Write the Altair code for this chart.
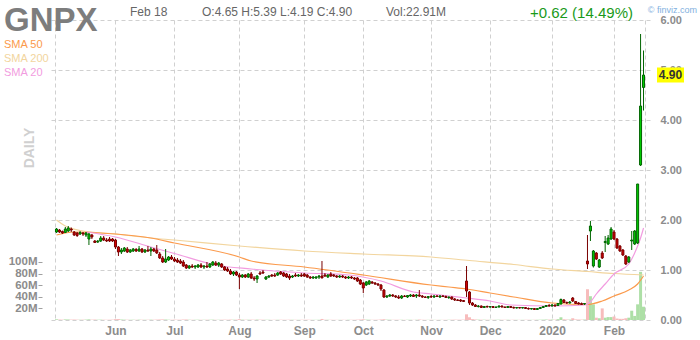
import altair as alt
import pandas as pd

ticker = "GNPX"
sma_names = ["SMA 50", "SMA 200", "SMA 20"]

opens = [1.76,1.80,1.77,1.75,1.78,1.82,1.76,1.74,1.72,1.74,1.70,1.62,1.70,1.58,1.56,1.58,1.64,1.60,1.62,1.62,
         1.60,1.46,1.36,1.38,1.42,1.36,1.38,1.41,1.38,1.42,1.36,1.40,1.38,1.42,1.40,1.32,1.24,1.16,1.20,1.26,
         1.22,1.20,1.18,1.16,1.10,1.04,1.08,1.06,1.06,1.10,1.06,1.08,1.06,1.10,1.14,1.10,1.12,1.06,1.02,0.98,
         0.92,0.96,0.90,0.86,0.90,0.86,0.92,0.84,0.82,0.94,0.96,0.82,0.86,0.90,0.90,0.90,0.96,0.94,0.92,0.88,
         0.86,0.90,0.88,0.90,0.92,0.90,0.86,0.84,0.84,0.86,0.88,0.90,0.86,0.92,0.90,0.88,0.86,0.88,0.86,0.84,
         0.86,0.84,0.84,0.80,0.74,0.70,0.72,0.76,0.74,0.72,0.70,0.60,0.46,0.48,0.50,0.48,0.46,0.44,0.48,0.46,
         0.48,0.50,0.48,0.50,0.48,0.46,0.45,0.47,0.46,0.48,0.46,0.48,0.47,0.45,0.46,0.42,0.40,0.40,0.39,0.78,
         0.56,0.34,0.30,0.27,0.28,0.25,0.27,0.26,0.27,0.25,0.26,0.28,0.26,0.25,0.27,0.25,0.24,0.25,0.24,0.25,
         0.23,0.22,0.23,0.21,0.23,0.25,0.27,0.29,0.28,0.30,0.29,0.32,0.40,0.35,0.34,0.44,0.37,0.34,0.33,0.32,
         1.18,1.78,1.08,1.34,1.06,1.34,1.55,1.52,1.62,1.76,1.62,1.48,1.40,1.28,1.16,1.58,1.52,1.54,3.10,4.65]
highs = [1.84,1.82,1.79,1.86,1.88,1.85,1.78,1.76,1.78,1.76,1.76,1.74,1.72,1.60,1.60,1.68,1.68,1.64,1.66,1.64,
         1.62,1.48,1.44,1.46,1.46,1.42,1.44,1.44,1.48,1.44,1.42,1.48,1.46,1.44,1.50,1.36,1.28,1.42,1.28,1.30,
         1.26,1.24,1.22,1.20,1.12,1.10,1.12,1.10,1.12,1.14,1.10,1.16,1.14,1.18,1.18,1.16,1.14,1.08,1.06,1.02,
         0.98,0.98,0.94,0.92,0.92,0.94,0.96,0.88,0.90,0.98,1.00,0.88,0.90,0.92,0.94,0.96,0.98,0.96,0.94,0.92,
         0.90,0.94,0.92,0.94,0.94,0.92,0.88,0.88,0.88,0.90,1.18,0.94,0.92,0.96,0.92,0.90,0.90,0.90,0.88,0.88,
         0.88,0.86,0.86,0.82,0.76,0.78,0.80,0.78,0.76,0.74,0.72,0.62,0.50,0.52,0.52,0.50,0.50,0.50,0.50,0.50,
         0.52,0.52,0.52,0.60,0.50,0.48,0.48,0.50,0.50,0.50,0.50,0.50,0.49,0.47,0.47,0.44,0.42,0.42,0.40,1.08,
         0.58,0.36,0.32,0.30,0.29,0.28,0.29,0.28,0.28,0.27,0.29,0.29,0.27,0.28,0.28,0.27,0.26,0.26,0.26,0.26,
         0.25,0.24,0.24,0.24,0.26,0.28,0.30,0.32,0.32,0.31,0.34,0.43,0.42,0.37,0.38,0.46,0.38,0.36,0.35,0.34,
         1.70,1.98,1.40,1.36,1.22,1.38,1.68,1.70,1.86,1.80,1.64,1.50,1.42,1.30,1.28,1.78,1.80,2.72,5.72,5.39]
lows = [1.74,1.74,1.72,1.74,1.76,1.76,1.68,1.66,1.70,1.68,1.66,1.50,1.62,1.54,1.54,1.56,1.58,1.56,1.56,1.56,
        1.42,1.28,1.32,1.36,1.34,1.34,1.36,1.36,1.36,1.34,1.34,1.36,1.28,1.36,1.32,1.22,1.14,1.14,1.18,1.20,
        1.16,1.14,1.12,1.06,1.02,1.02,1.04,1.02,1.04,1.04,1.02,1.04,1.04,1.08,1.08,1.06,1.04,0.98,0.96,0.90,
        0.88,0.88,0.62,0.84,0.84,0.84,0.82,0.78,0.74,0.90,0.92,0.80,0.84,0.86,0.86,0.88,0.90,0.86,0.84,0.80,
        0.84,0.86,0.86,0.86,0.86,0.84,0.82,0.82,0.82,0.82,0.86,0.86,0.84,0.86,0.86,0.84,0.84,0.84,0.82,0.82,
        0.82,0.80,0.76,0.70,0.54,0.68,0.70,0.72,0.70,0.68,0.58,0.44,0.44,0.46,0.46,0.44,0.42,0.42,0.46,0.44,
        0.46,0.46,0.44,0.46,0.44,0.44,0.42,0.44,0.44,0.46,0.44,0.46,0.44,0.42,0.40,0.38,0.38,0.36,0.36,0.46,
        0.30,0.28,0.26,0.25,0.24,0.24,0.25,0.24,0.24,0.24,0.25,0.25,0.24,0.24,0.24,0.23,0.23,0.23,0.23,0.22,
        0.21,0.21,0.20,0.20,0.22,0.24,0.26,0.27,0.27,0.27,0.28,0.31,0.34,0.32,0.33,0.36,0.32,0.31,0.30,0.30,
        1.02,1.58,1.05,1.20,1.04,1.22,1.36,1.50,1.60,1.60,1.42,1.36,1.28,1.10,1.14,1.40,1.50,1.52,3.08,4.19]
closes = [1.82,1.76,1.74,1.82,1.84,1.80,1.70,1.69,1.75,1.72,1.74,1.72,1.66,1.55,1.58,1.64,1.60,1.58,1.58,1.58,
          1.46,1.36,1.40,1.44,1.36,1.40,1.42,1.38,1.42,1.36,1.40,1.38,1.42,1.38,1.34,1.24,1.16,1.22,1.26,1.22,
          1.18,1.16,1.14,1.08,1.04,1.08,1.06,1.08,1.10,1.06,1.08,1.06,1.12,1.16,1.10,1.14,1.06,1.00,0.98,0.92,
          0.96,0.90,0.86,0.90,0.86,0.92,0.84,0.82,0.88,0.92,0.94,0.86,0.88,0.88,0.88,0.94,0.92,0.88,0.86,0.84,
          0.88,0.88,0.90,0.88,0.88,0.86,0.84,0.86,0.86,0.88,0.84,0.88,0.90,0.88,0.88,0.86,0.88,0.86,0.84,0.86,
          0.84,0.82,0.78,0.72,0.64,0.76,0.78,0.74,0.72,0.70,0.62,0.46,0.48,0.50,0.48,0.46,0.44,0.48,0.47,0.49,
          0.50,0.47,0.50,0.48,0.46,0.45,0.47,0.46,0.48,0.47,0.48,0.47,0.45,0.46,0.42,0.40,0.39,0.38,0.37,0.58,
          0.34,0.30,0.27,0.28,0.25,0.27,0.26,0.27,0.25,0.26,0.28,0.26,0.25,0.27,0.25,0.24,0.25,0.24,0.25,0.23,
          0.22,0.23,0.21,0.23,0.25,0.27,0.29,0.28,0.30,0.28,0.33,0.41,0.35,0.34,0.36,0.38,0.33,0.32,0.31,0.33,
          1.12,1.88,1.38,1.22,1.20,1.24,1.57,1.64,1.82,1.62,1.44,1.38,1.30,1.12,1.26,1.60,1.78,2.72,4.28,4.90]
volumes_m = [1.2,0.8,0.6,1.0,0.9,0.7,0.8,0.6,0.5,0.6,0.7,1.1,0.6,0.8,0.5,0.6,0.5,0.4,0.5,0.6,
             1.4,1.6,0.8,0.6,0.5,0.4,0.5,0.4,0.6,0.5,0.4,0.5,0.6,0.5,0.7,0.9,1.0,0.8,0.5,0.4,
             0.6,0.5,0.5,0.8,0.9,0.5,0.4,0.4,0.5,0.4,0.4,0.5,0.5,0.6,0.4,0.4,0.5,0.6,0.5,0.7,
             0.5,0.6,1.4,0.6,0.5,0.5,0.6,0.5,0.7,0.6,0.5,0.4,0.4,0.3,0.4,0.4,0.5,0.4,0.4,0.5,
             0.4,0.4,0.3,0.4,0.4,0.5,0.4,0.3,0.3,0.4,1.8,0.5,0.4,0.4,0.3,0.3,0.3,0.4,0.3,0.4,
             0.4,0.4,0.6,0.8,1.2,0.6,0.5,0.4,0.4,0.5,0.9,1.3,0.6,0.5,0.4,0.4,0.4,0.4,0.3,0.4,
             0.4,0.3,0.4,0.8,0.4,0.3,0.3,0.4,0.3,0.3,0.3,0.3,0.3,0.4,0.5,0.6,0.5,0.5,0.6,9.8,
             4.7,1.5,0.9,0.6,0.5,0.5,0.4,0.4,0.4,0.4,0.5,0.4,0.4,0.4,0.3,0.4,0.3,0.3,0.3,0.4,
             0.4,0.3,0.4,0.4,0.5,0.6,0.8,0.7,0.8,0.6,1.4,4.7,1.2,0.8,0.7,3.0,1.0,0.8,0.7,0.8,
             53,41,27,4,3,20,4,5,5,6,2.5,2,2,3,4,16,7,27,83,22.91]

sma50_days = [0,6,20,32,40,62,66,84,104,127,133,139,147,155,168,180,185,189,194,197,199]
sma50_vals = [1.70,1.76,1.72,1.64,1.54,1.26,1.18,1.06,0.90,0.70,0.66,0.62,0.54,0.46,0.34,0.31,0.38,0.48,0.60,0.72,0.88]
sma200_days = [0,3,8,20,32,40,62,84,104,127,140,155,168,180,189,199]
sma200_vals = [2.00,1.88,1.79,1.72,1.64,1.60,1.48,1.38,1.32,1.26,1.19,1.11,1.02,0.97,0.93,0.90]
sma20_days = [10,20,32,40,54,66,84,99,110,121,127,133,139,147,154,169,179,181,183,186,189,194,196,197,198,199]
sma20_vals = [1.76,1.66,1.46,1.33,1.10,1.02,0.94,0.90,0.78,0.56,0.52,0.48,0.44,0.38,0.30,0.28,0.30,0.36,0.52,0.72,0.92,1.12,1.34,1.48,1.64,1.84]

price_ticks = [0, 1, 2, 3, 4, 5, 6]
volume_ticks_m = [20, 40, 60, 80, 100]

holidays = ["2019-05-27", "2019-07-04", "2019-09-02", "2019-11-28", "2019-12-25",
            "2020-01-01", "2020-01-20", "2020-02-17"]
dates = pd.bdate_range("2019-05-03", "2020-02-18", freq="C", holidays=holidays)
n = len(dates)

df = pd.DataFrame({"idx": list(range(n)), "o": opens, "h": highs, "l": lows, "c": closes,
                   "v": [v * 1e6 for v in volumes_m]})
df["dir"] = ["up" if c >= o else "down" for o, c in zip(opens, closes)]

tick_idx = [i for i in range(1, n) if dates[i].month != dates[i - 1].month]
tick_lab = [str(dates[i].year) if dates[i].month == 1 else dates[i].strftime("%b") for i in tick_idx]

FONT = "Liberation Sans"
GRID = "#d0d0d0"
LAB = "#8c8c8c"

xscale = alt.Scale(domain=[-0.5, n - 0.5], nice=False, zero=False)
xaxis = alt.Axis(values=[-0.5] + tick_idx + [n - 0.5],
                 labelExpr=f"indexof({tick_idx}, datum.value) >= 0 ? {tick_lab}[indexof({tick_idx}, datum.value)] : ''",
                 grid=True, gridDash=[4, 3], gridColor=GRID, domain=False, ticks=False,
                 labelPadding=5, labelFont=FONT, labelFontSize=12, labelFontWeight="bold",
                 labelColor=LAB, title=None, labelOverlap=False, labelFlush=False, labelBound=False)
pscale = alt.Scale(domain=[0, 6], nice=False, zero=False)
paxis = alt.Axis(orient="right", values=price_ticks, format=".2f", grid=True, gridDash=[4, 3],
                 gridColor=GRID, domain=False, ticks=False, labelPadding=10, labelFont=FONT,
                 labelFontSize=11, labelFontWeight="bold", labelColor=LAB, title=None,
                 labelFlush=False, labelBound=False)
vscale = alt.Scale(domain=[0, 517e6], nice=False, zero=True)
vaxis = alt.Axis(orient="left", values=[v * 1e6 for v in volume_ticks_m],
                 labelExpr="format(datum.value / 1e6, 'd') + 'M'", grid=False, domain=False,
                 ticks=True, tickSize=4, tickColor="#a0a0a0", offset=8, labelPadding=1,
                 labelFont=FONT, labelFontSize=11.5, labelFontWeight="bold", labelColor=LAB,
                 title=None, labelFlush=False, labelBound=False)

X = alt.X("idx:Q", scale=xscale, axis=xaxis)
base = alt.Chart(df)

vol_up = base.transform_filter("datum.dir == 'up'").mark_bar(width=3, color="#addfa6").encode(
    x=X, y=alt.Y("v:Q", scale=vscale, axis=vaxis))
vol_dn = base.transform_filter("datum.dir == 'down'").mark_bar(width=3, color="#f7bcbc").encode(
    x=X, y=alt.Y("v:Q", scale=vscale, axis=None))

wick_up = base.transform_filter("datum.dir == 'up'").mark_rule(color="#006400", strokeWidth=1).encode(
    x=X, y=alt.Y("l:Q", scale=pscale, axis=paxis), y2="h:Q")
wick_dn = base.transform_filter("datum.dir == 'down'").mark_rule(color="#7a0000", strokeWidth=1).encode(
    x=X, y=alt.Y("l:Q", scale=pscale, axis=None), y2="h:Q")
body_up = base.transform_filter("datum.dir == 'up'").mark_bar(
    width=2, fill="#00d000", stroke="#006400", strokeWidth=1).encode(
    x=X, y=alt.Y("o:Q", scale=pscale, axis=None), y2="c:Q")
body_dn = base.transform_filter("datum.dir == 'down'").mark_bar(
    width=2, fill="#d40000", stroke="#7a0000", strokeWidth=1).encode(
    x=X, y=alt.Y("o:Q", scale=pscale, axis=None), y2="c:Q")


def sma_line(days, vals, color):
    d = pd.DataFrame({"idx": days, "val": vals})
    return alt.Chart(d).mark_line(color=color, strokeWidth=1.2, interpolate="monotone").encode(
        x=X, y=alt.Y("val:Q", scale=pscale, axis=None))


sma_cols = ["#fb9a4c", "#f2d59e", "#f29ce0"]
l200 = sma_line(sma200_days, sma200_vals, sma_cols[1])
l50 = sma_line(sma50_days, sma50_vals, sma_cols[0])
l20 = sma_line(sma20_days, sma20_vals, sma_cols[2])

last = df.tail(1)
box = alt.Chart(last).transform_calculate(top="datum.c + 0.15", bot="datum.c - 0.15").mark_rect(
    color="#ffff00").encode(x=alt.value(607), x2=alt.value(634),
                            y=alt.Y("top:Q", scale=pscale, axis=None), y2="bot:Q")
box_txt = alt.Chart(last).mark_text(font=FONT, fontSize=12, fontWeight="bold", color="#333333",
                                    align="center", baseline="middle").encode(
    x=alt.value(620.5), y=alt.Y("c:Q", scale=pscale, axis=None), text=alt.Text("c:Q", format=".2f"))


def label(text, x, y, size, color, weight="normal", align="left", angle=0, baseline="middle"):
    kw = dict(text=text, font=FONT, fontSize=size, color=color, fontWeight=weight,
              align=align, baseline=baseline)
    if angle:
        kw["angle"] = angle
    return alt.Chart(alt.Data(values=[{}])).mark_text(**kw).encode(x=alt.value(x), y=alt.value(y))


chg = closes[-1] - closes[-2]
pct = chg / closes[-2] * 100
date_txt = f"{dates[-1].strftime('%b')} {dates[-1].day}"
ohlc_txt = f"O:{opens[-1]:.2f}  H:{highs[-1]:.2f}  L:{lows[-1]:.2f}  C:{closes[-1]:.2f}"
vol_txt = f"Vol:{volumes_m[-1]:.2f}M"
chg_txt = f"{chg:+.2f} ({pct:.2f}%)"

texts = [
    label(ticker, -46, 11, 33, "#7d7d7d", "bold", baseline="alphabetic"),
    label(date_txt, 80, -8, 12, "#666666"),
    label(ohlc_txt, 152, -8, 12, "#666666"),
    label(vol_txt, 336, -8, 12, "#666666"),
    label(chg_txt, 480, -7, 15, "#1a9a1a"),
    label("\u00a9 finviz.com", 647, -10, 9, "#7fb0e0", align="right"),
    label(sma_names[0], -46, 25, 11, sma_cols[0]),
    label(sma_names[1], -46, 39, 11, sma_cols[1]),
    label(sma_names[2], -46, 53, 11, sma_cols[2]),
    label("DAILY", -20, 128, 14, "#d0d0d0", "bold", align="center", angle=270),
]

chart = alt.layer(vol_up, vol_dn, l200, l50, l20, wick_up, wick_dn, body_up, body_dn,
                  box, box_txt, *texts).resolve_scale(y="independent").properties(
    width=600, height=300,
    autosize=alt.AutoSizeParams(type="none"),
    padding={"left": 50, "top": 20, "right": 50, "bottom": 20},
    background="white",
).configure_view(stroke=None)

chart.save("out.html", embed_options={"renderer": "svg", "actions": False})
